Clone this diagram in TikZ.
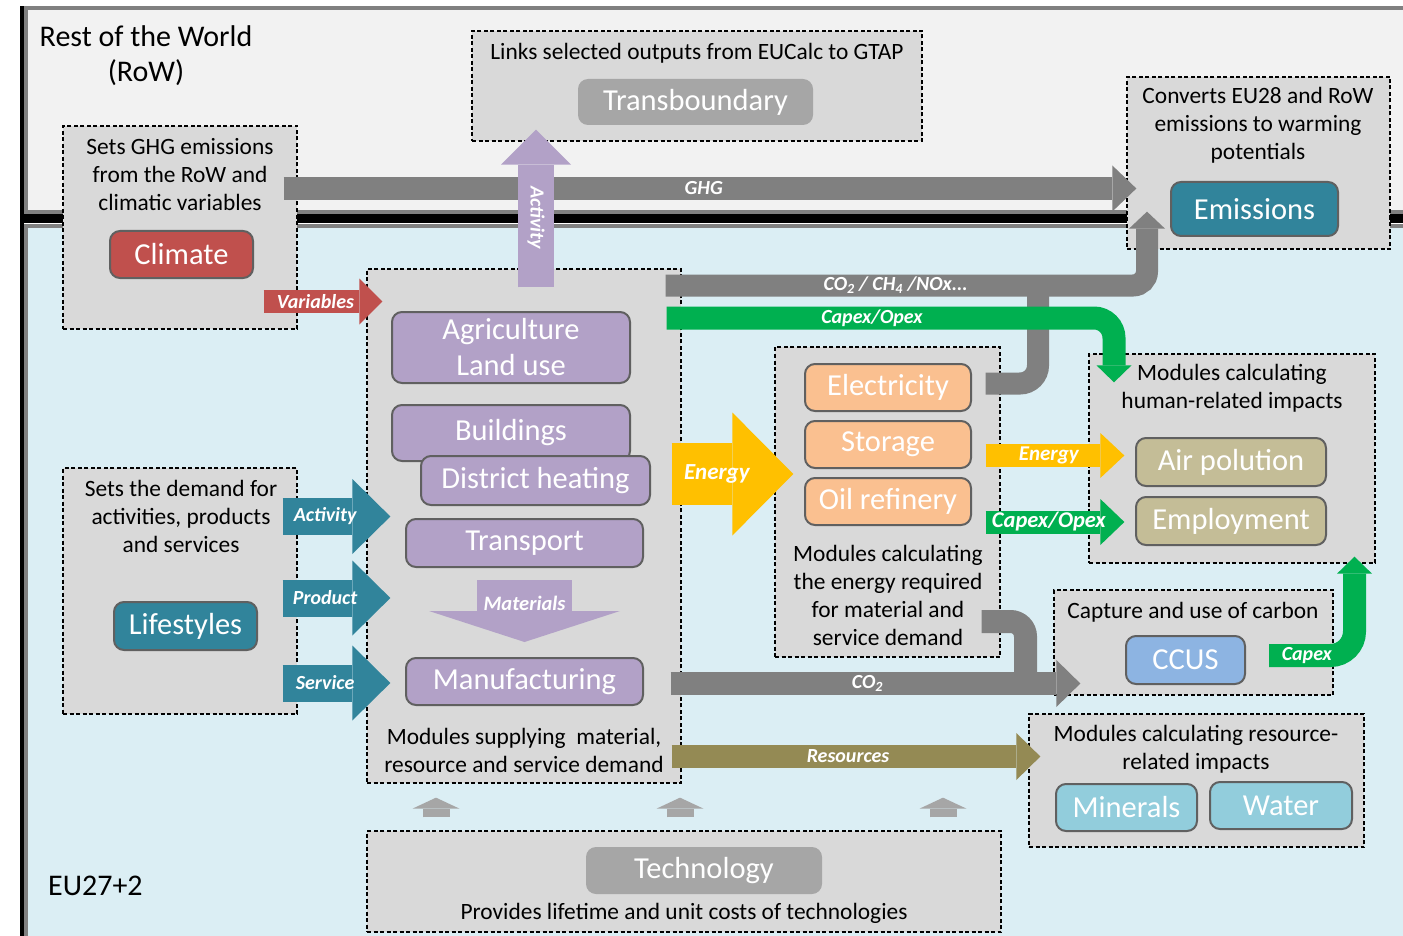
\documentclass[tikz,border=0pt]{standalone}
\usepackage{fontspec}
\setmainfont{Carlito}
\usetikzlibrary{arrows.meta,positioning}

\definecolor{rowbg}{HTML}{F2F2F2}
\definecolor{eubg}{HTML}{DBEEF4}
\definecolor{boxbg}{HTML}{D9D9D9}
\definecolor{edge}{HTML}{606060}
\definecolor{flowgray}{HTML}{808080}
\definecolor{climred}{HTML}{C0504D}
\definecolor{teal}{HTML}{31849B}
\definecolor{lilac}{HTML}{B2A1C7}
\definecolor{peach}{HTML}{FAC090}
\definecolor{gold}{HTML}{FFC000}
\definecolor{leaf}{HTML}{00B050}
\definecolor{sand}{HTML}{C4BD97}
\definecolor{resolive}{HTML}{948A54}
\definecolor{sky}{HTML}{8DB4E2}
\definecolor{aqua}{HTML}{92CDDC}
\definecolor{techgray}{HTML}{A6A6A6}

\tikzset{
  grp/.style={draw=black, fill=boxbg, line width=1.3pt, dash pattern=on 4pt off 2.5pt, inner sep=0pt},
  module/.style={fill=#1, draw=edge, line width=2pt, rounded corners=10pt, text=white, inner sep=0pt, align=center, font=\fontsize{30.5}{36}\selectfont},
  desc/.style={inner sep=0pt, align=center, font=\fontsize{23.4}{28}\selectfont},
  tag/.style={inner sep=0pt, text=white, font=\fontsize{20}{22}\selectfont\bfseries\itshape},
  flow/.style n args={4}{draw=#1, line width=#2pt, -{Triangle[length=#3pt,width=#4pt,line width=0pt]}},
  wh/.style 2 args={minimum width=#1pt, minimum height=#2pt},
}

\begin{document}
\begin{tikzpicture}[x=1pt, y=-1pt]
\useasboundingbox (0,0) rectangle (1403,936);
\clip (0,0) rectangle (1403,936);
\fill[white] (0,0) rectangle (1403,936);

% the two regions
\fill[black] (20,6) rectangle (24,936);
\draw[flowgray, line width=4pt, fill=rowbg] (26,8) rectangle (1420,212);
\fill[black] (20,214) rectangle (1403,223);
\draw[flowgray, line width=4pt, fill=eubg] (26,226) rectangle (1420,950);
\node[desc, font=\fontsize{30}{35}\selectfont] (row) at (146,56) {Rest of the World\\(RoW)};
\node[desc, font=\fontsize{30}{35}\selectfont, anchor=west] (eu) at (48,886) {EU27+2};

% dashed groups
\node[grp, wh={234}{203}] (climbox) at (180,227.5) {};
\node[grp, wh={450}{110}] (trbox) at (697,86) {};
\node[grp, wh={263}{172}] (embox) at (1258.5,163) {};
\node[grp, wh={314}{514}] (secbox) at (524,526) {};
\node[grp, wh={234}{246}] (lifebox) at (180,591) {};
\node[grp, wh={225}{310}] (enbox) at (887.5,502) {};
\node[grp, wh={286}{209}] (humbox) at (1232,458.5) {};
\node[grp, wh={279}{105}] (ccusbox) at (1193.5,642.5) {};
\node[grp, wh={335}{133}] (resbox) at (1196.5,780.5) {};
\node[grp, wh={634}{101}] (techbox) at (684,881.5) {};

\node[desc] (climtxt) at (180,175) {Sets GHG emissions\\from the RoW and\\climatic variables};
\node[desc] (trtxt) at (697,53) {Links selected outputs from EUCalc to GTAP};
\node[desc] (emtxt) at (1258,125) {Converts EU28 and RoW\\emissions to warming\\potentials};
\node[desc] (sectxt) at (524,750) {Modules supplying\ \ material,\\resource and service demand};
\node[desc] (lifetxt) at (181,516) {Sets the demand for\\activities, products\\and services};
\node[desc] (entxt) at (888,595) {Modules calculating\\the energy required\\for material and\\service demand};
\node[desc] (humtxt) at (1232,388) {Modules calculating\\human-related impacts};
\node[desc] (ccustxt) at (1193,612) {Capture and use of carbon};
\node[desc] (restxt) at (1196,749) {Modules calculating resource-\\related impacts};
\node[desc] (techtxt) at (684,913) {Provides lifetime and unit costs of technologies};

% modules
\node[module=climred, wh={143}{47}] (climate) at (181.5,254.5) {Climate};
\node[module=techgray, draw=none, wh={235}{46}] (transb) at (695.5,102) {Transboundary};
\node[module=teal, wh={167}{54}] (emis) at (1254.5,209) {Emissions};
\node[module=lilac, wh={238}{71}] (agri) at (511,347.5) {Agriculture\\Land use};
\node[module=lilac, wh={238}{56}] (build) at (511,433) {Buildings};
\node[module=lilac, wh={229}{49}] (distr) at (535.5,480.5) {District heating};
\node[module=lilac, wh={237}{48}] (transp) at (524.5,543) {Transport};
\node[module=lilac, wh={237}{47}] (manu) at (524.5,681.5) {Manufacturing};
\node[module=teal, wh={143}{48}] (life) at (185.5,626) {Lifestyles};
\node[module=peach, wh={166}{47}] (elec) at (888,387.5) {Electricity};
\node[module=peach, wh={166}{47}] (stor) at (888,444.5) {Storage};
\node[module=peach, wh={166}{47}] (oil) at (888,501.5) {Oil refinery};
\node[module=sand, wh={190}{48}] (air) at (1231,462) {Air polution};
\node[module=sand, wh={190}{48}] (empl) at (1231,521) {Employment};
\node[module=sky, wh={119}{48}] (ccus) at (1185.5,660) {CCUS};
\node[module=aqua, wh={141}{47}] (miner) at (1126.5,807.5) {Minerals};
\node[module=aqua, wh={142}{47}] (water) at (1281,805.5) {Water};
\node[module=techgray, draw=none, wh={236}{47}] (tech) at (704,870.5) {Technology};

% flows
\coordinate (noxjoin) at (1038,285.5);
\coordinate (co2join) at (1025.5,683.5);
\draw[flowgray, line width=22pt, rounded corners=18pt, shorten <=-15pt] (enbox.east |- 0,383.5) -| (noxjoin);
\draw[flowgray, line width=23pt, rounded corners=15pt, shorten <=-19pt] (enbox.east |- 0,621.5) -| (co2join);

\draw[flow={flowgray}{23}{24}{46}, shorten <=-14pt, shorten >=-10pt]
  (climbox.east |- 0,188.5) -- (embox.west |- 0,188.5) node[tag, pos=0.49] {GHG};
\draw[flow={lilac}{36}{35}{70}, shorten <=-19pt, shorten >=-12pt]
  (536,0 |- secbox.north) -- (536,0 |- trbox.south) node[tag, rotate=-90, pos=0.4] {Activity};
\draw[flow={climred}{23}{23}{46}, shorten <=-34pt, shorten >=-16pt]
  (climbox.east |- 0,301.5) -- (secbox.west |- 0,301.5) node[tag, pos=0.26] {Variables};
\foreach \y/\lab in {516.5/Activity, 598/Product, 683/Service}
  \draw[flow={teal}{37}{38}{75}, shorten <=-15pt, shorten >=-24pt]
    (lifebox.east |- 0,\y) -- (secbox.west |- 0,\y) node[tag, font=\fontsize{20}{22}\selectfont\bfseries\itshape, pos=0.4] {\lab};
\draw[flow={gold}{62}{61}{123}, shorten <=-10pt, shorten >=-19pt]
  (secbox.east |- 0,474) -- (enbox.west |- 0,474) node[tag, font=\fontsize{23}{26}\selectfont\bfseries\itshape, pos=0.38] {Energy};
\draw[flow={gold}{23}{24}{45}, shorten <=-15pt, shorten >=-36pt]
  (enbox.east |- 0,455.5) -- (humbox.west |- 0,455.5) node[tag, font=\fontsize{21}{24}\selectfont\bfseries\itshape, pos=0.55] {Energy};
\draw[flow={leaf}{23}{24}{46}, shorten <=-15pt, shorten >=-36pt]
  (enbox.east |- 0,522) -- (humbox.west |- 0,522) node[tag, font=\fontsize{22.5}{24}\selectfont\bfseries\itshape, pos=0.55] {Capex/Opex};
\draw[flow={flowgray}{23}{24}{47}, shorten <=-11pt, shorten >=-27pt]
  (secbox.east |- 0,683.5) -- (ccusbox.west |- 0,683.5) node[tag, pos=0.5] {CO\textsubscript{2}};
\draw[flow={resolive}{23}{24}{47}, shorten <=-10pt, shorten >=-12pt]
  (secbox.east |- 0,756.5) -- (resbox.west |- 0,756.5) node[tag, pos=0.48] {Resources};
\draw[flow={lilac}{95}{31}{191}, shorten <=12pt, shorten >=15pt]
  (transp.south) -- (manu.north) node[tag, font=\fontsize{20.5}{22}\selectfont\bfseries\itshape, pos=0.4] {Materials};
\foreach \x in {436,680,943}
  \draw[flow={techgray}{27}{11}{47}, shorten <=13pt, shorten >=14pt]
    (\x,0 |- techbox.north) -- (\x,0 |- secbox.south);

\draw[flow={flowgray}{22}{17}{36}, rounded corners=14pt, shorten <=-16pt, shorten >=-38pt]
  (secbox.east |- 0,285.5) -| (1147,0 |- embox.south) node[tag, pos=0.23] {CO\textsubscript{2} / CH\textsubscript{4} /NOx...};
\draw[flow={leaf}{23}{17}{35}, rounded corners=20pt, shorten <=-15pt, shorten >=-29pt]
  (secbox.east |- 0,318) -| (1114,0 |- humbox.north) node[tag, pos=0.22] {Capex/Opex};
\draw[flow={leaf}{23}{17}{35}, rounded corners=24pt, shorten <=23pt, shorten >=-7pt]
  (ccus.east |- 0,655.5) -| (1354.5,0 |- humbox.south) node[tag, pos=0.28] {Capex};
\end{tikzpicture}
\end{document}
